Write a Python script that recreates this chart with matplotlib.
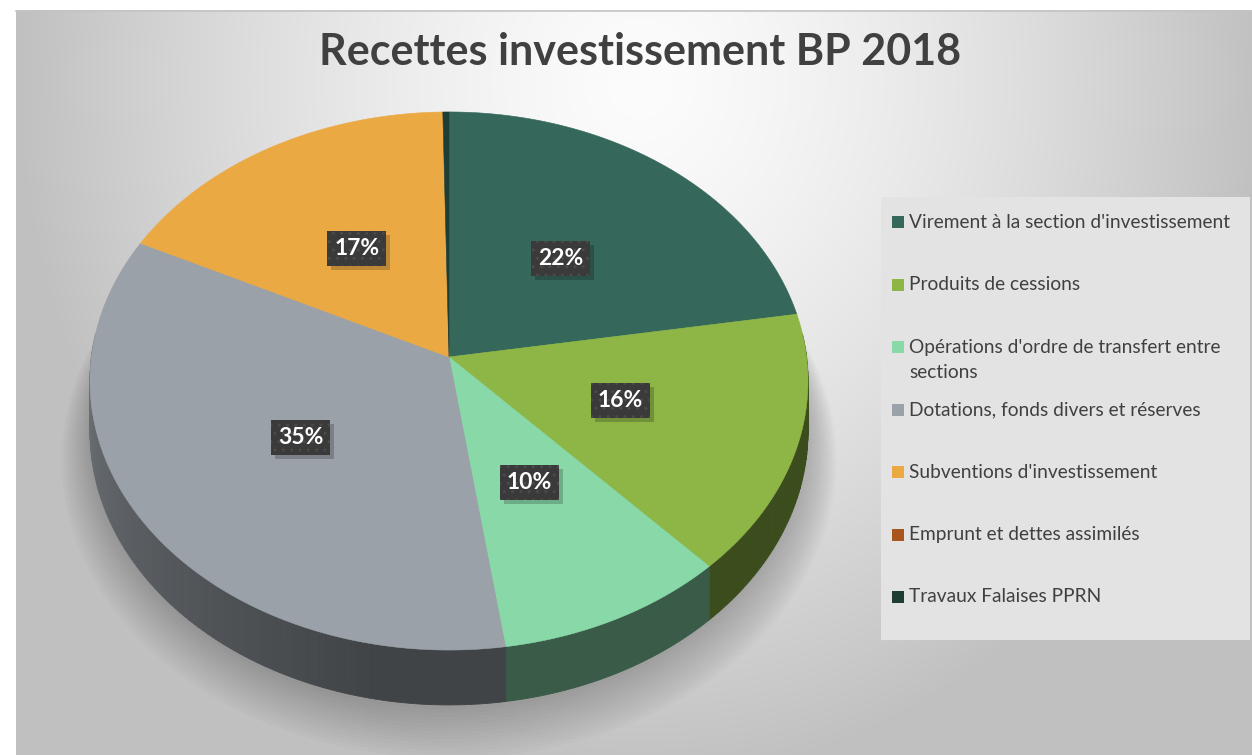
import numpy as np
import matplotlib
matplotlib.use("Agg")
import matplotlib.pyplot as plt
from matplotlib.patches import Polygon, Rectangle
from matplotlib.colors import to_rgb

title = "Recettes investissement BP 2018"
categories = ["Virement à la section d'investissement",
              "Produits de cessions",
              "Opérations d'ordre de transfert entre\nsections",
              "Dotations, fonds divers et réserves",
              "Subventions d'investissement",
              "Emprunt et dettes assimilés",
              "Travaux Falaises PPRN"]
values = [22.4, 15.7, 9.6, 34.6, 17.4, 0.0, 0.3]
colors = ["#35675A", "#8DB646", "#88D8A8", "#9AA1A8", "#EBA944", "#A8561E", "#1E3D34"]

FONT = "Lato"
W, H = 1252, 755
fig = plt.figure(figsize=(W / 100, H / 100), dpi=100)
ax = fig.add_axes([0, 0, 1, 1])
ax.set_xlim(0, W)
ax.set_ylim(H, 0)
ax.axis('off')

# background panel with radial gradient
yy, xx = np.mgrid[10:H, 16:W]
d = np.sqrt(((xx - 640) / 640.) ** 2 + ((yy - 80) / 720.) ** 2)
g = np.clip(252 - 62 * d ** 1.4, 192, 255) / 255.
ax.imshow(np.dstack([g, g, g]), extent=[16, W, H, 10], zorder=0,
          aspect='auto', interpolation='bilinear')
ax.plot([16, W], [10.5, 10.5], color='#c4c4c4', lw=1.2, zorder=1)

# perspective projection of the pie disc
CX, CY, A, B, K = 449.0, 357.0, 357.6, 266.9, 0.0892
DEPTH = 50.0


def proj(r, t, drop=0.0):
    u = r * np.sin(t)
    v = -r * np.cos(t)
    w = 1 - K * v
    return CX + A * u / w, CY + B * v / w + drop / w


vals = np.array(values, dtype=float)
frac = vals / vals.sum()
ends = np.cumsum(frac) * 2 * np.pi
starts = ends - frac * 2 * np.pi

# soft shadow under the pie
tt = np.linspace(0, 2 * np.pi, 400)
for s in range(14):
    sc = 1.0 + 0.006 * s
    x, y = proj(sc, tt, DEPTH + 4 + 1.6 * s)
    ax.add_patch(Polygon(np.column_stack([x, y]), closed=True, fc='black',
                         ec='none', alpha=0.017, zorder=1.5))


def shade(tdeg):
    return 0.42 + 0.28 * np.clip((tdeg - 190) / 80.0, 0, 1)


# side walls (front part)
vis0, vis1 = np.radians(85), np.radians(275)
for i in range(len(vals)):
    a0, a1 = max(starts[i], vis0), min(ends[i], vis1)
    if a1 - a0 <= 1e-6:
        continue
    n = max(1, int(np.degrees(a1 - a0)))
    ts = np.linspace(a0, a1, n + 1)
    for j in range(n):
        seg = np.linspace(ts[j], ts[j + 1], 3)
        x1, y1 = proj(1, seg)
        x2, y2 = proj(1, seg, DEPTH)
        poly = np.column_stack([np.r_[x1, x2[::-1]], np.r_[y1, y2[::-1]]])
        mid = np.degrees((ts[j] + ts[j + 1]) / 2)
        c = np.clip(np.array(to_rgb(colors[i])) * shade(mid), 0, 1)
        ax.add_patch(Polygon(poly, closed=True, fc=c, ec=c, lw=0.6, zorder=2))

# top faces
for i in range(len(vals)):
    if frac[i] <= 0:
        continue
    n = max(3, int(np.degrees(ends[i] - starts[i]) * 2))
    ts = np.linspace(starts[i], ends[i], n)
    x, y = proj(1, ts)
    poly = np.column_stack([np.r_[CX, x], np.r_[CY, y]])
    ax.add_patch(Polygon(poly, closed=True, fc=colors[i], ec=colors[i],
                         lw=0.4, zorder=3))

# data labels
label_texts = []
for i in range(len(vals)):
    pct = frac[i] * 100
    if pct < 1:
        continue
    mid = (starts[i] + ends[i]) / 2
    lx, ly = proj(0.5, mid)
    txt = f"{round(pct):d}%"
    t = ax.text(lx, ly, txt, ha='center', va='center', fontsize=16.5,
                fontfamily=FONT, fontweight='bold', color='white', zorder=5,
                bbox=dict(boxstyle='square,pad=0.3', fc='#3a3a3a', ec='#4a4a4a',
                          lw=0, hatch='..'))
    label_texts.append(t)

# drop shadows behind label boxes
fig.canvas.draw()
inv = ax.transData.inverted()
for t in label_texts:
    bb = t.get_bbox_patch().get_window_extent()
    (x0, y0), (x1, y1) = inv.transform([[bb.x0, bb.y0], [bb.x1, bb.y1]])
    ax.add_patch(Rectangle((min(x0, x1) + 4, min(y0, y1) + 4), abs(x1 - x0),
                           abs(y1 - y0), fc='black', ec='none', alpha=0.2,
                           zorder=4))

# title
ax.text(640, 52, title, ha='center', va='center', fontsize=31,
        fontfamily=FONT, fontweight='bold', color='#404040', zorder=5)

# legend
ax.add_patch(Rectangle((881, 197), 369, 443, fc='#e3e3e3', ec='none', zorder=2))
for i, lab in enumerate(categories):
    y0 = 222 + 62.5 * i
    ax.add_patch(Rectangle((892, y0 - 6), 12, 12, fc=colors[i], ec='none', zorder=3))
    lines = lab.split("\n")
    for k, line in enumerate(lines):
        ax.text(909, y0 + 25 * k, line, ha='left', va='center', fontsize=13.8,
                fontfamily=FONT, color='#404040', zorder=4)

fig.savefig("out.png", dpi=100)
